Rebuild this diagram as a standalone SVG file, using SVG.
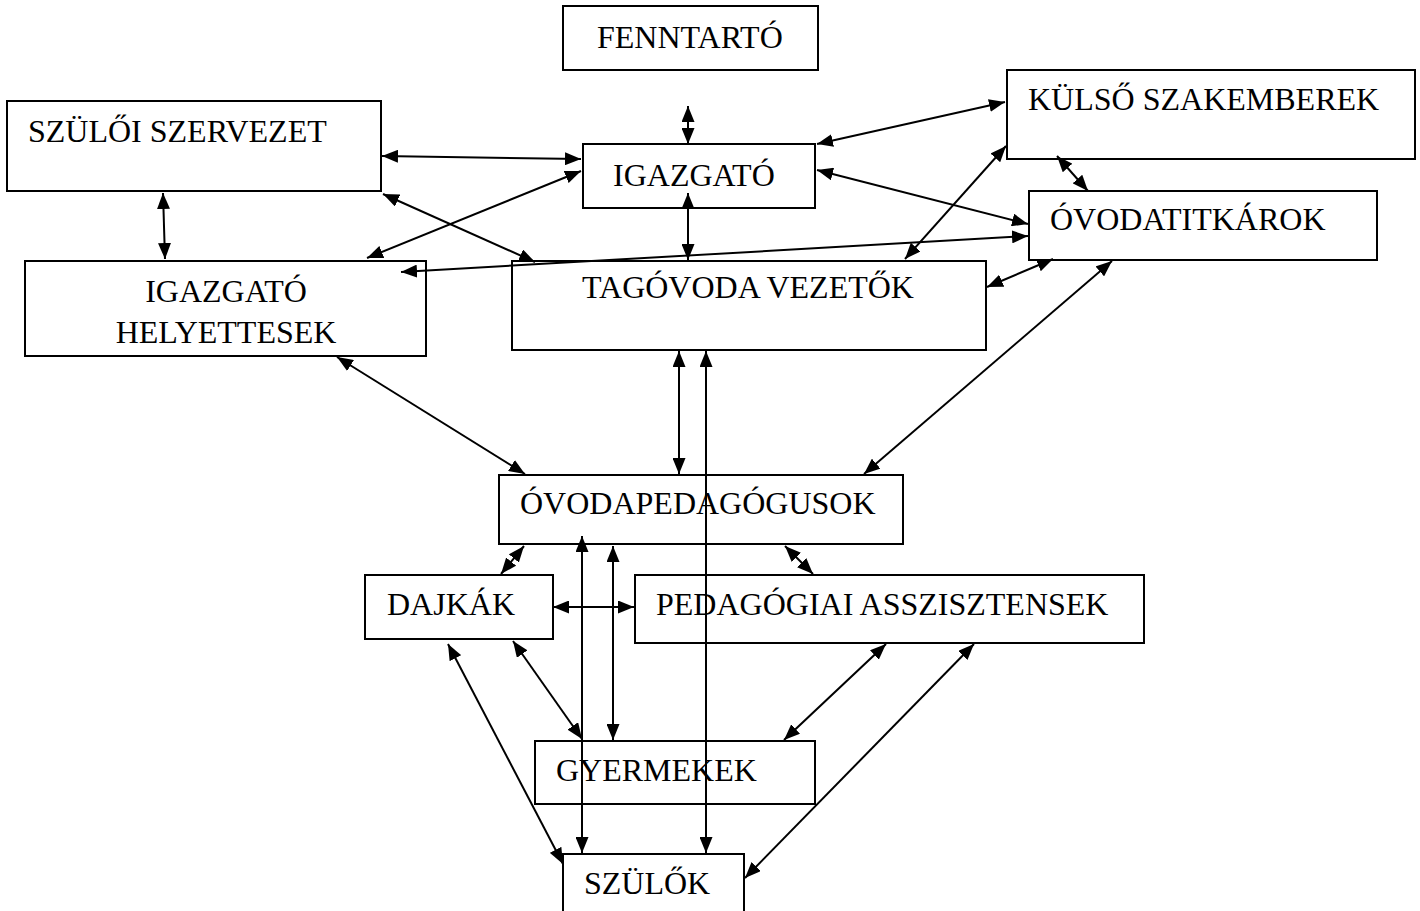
<svg xmlns="http://www.w3.org/2000/svg" width="1420" height="911" viewBox="0 0 1420 911">
<style>
.box{fill:none;stroke:#000;stroke-width:2}
.lbl{font-family:"Liberation Serif","Times New Roman",serif;font-size:32px;fill:#000}
.c{stroke:#000;stroke-width:2;fill:none;marker-start:url(#ah);marker-end:url(#ah)}
</style>
<defs>
<marker id="ah" viewBox="0 0 16 13" refX="16" refY="6.5" markerWidth="16" markerHeight="13" markerUnits="userSpaceOnUse" orient="auto-start-reverse">
<path d="M0,0 L16,6.5 L0,13 z" fill="#000"/>
</marker>
</defs>
<rect width="1420" height="911" fill="#fff"/>
<g id="fenntarto"><rect class="box" x="563" y="6" width="255" height="64"/><text class="lbl" x="597" y="48">FENNTARTÓ</text></g>
<g id="szuloi-szervezet"><rect class="box" x="7" y="101" width="374" height="90"/><text class="lbl" x="28" y="142">SZÜLŐI SZERVEZET</text></g>
<g id="igazgato"><rect class="box" x="583" y="144" width="232" height="64"/><text class="lbl" x="613" y="186">IGAZGATÓ</text></g>
<g id="kulso"><rect class="box" x="1007" y="70" width="408" height="89"/><text class="lbl" x="1028" y="110">KÜLSŐ SZAKEMBEREK</text></g>
<g id="titkarok"><rect class="box" x="1029" y="191" width="348" height="69"/><text class="lbl" x="1050" y="230">ÓVODATITKÁROK</text></g>
<g id="helyettesek"><rect class="box" x="25" y="261" width="401" height="95"/><text class="lbl" x="226" y="302" text-anchor="middle">IGAZGATÓ</text><text class="lbl" x="226" y="343" text-anchor="middle">HELYETTESEK</text></g>
<g id="tagovoda"><rect class="box" x="512" y="261" width="474" height="89"/><text class="lbl" x="748" y="298" text-anchor="middle">TAGÓVODA VEZETŐK</text></g>
<g id="ovodapedagogusok"><rect class="box" x="499" y="475" width="404" height="69"/><text class="lbl" x="520" y="514">ÓVODAPEDAGÓGUSOK</text></g>
<g id="dajkak"><rect class="box" x="365" y="575" width="188" height="64"/><text class="lbl" x="387" y="615">DAJKÁK</text></g>
<g id="asszisztensek"><rect class="box" x="635" y="575" width="509" height="68"/><text class="lbl" x="656" y="615">PEDAGÓGIAI ASSZISZTENSEK</text></g>
<g id="gyermekek"><rect class="box" x="535" y="741" width="280" height="63"/><text class="lbl" x="556" y="781">GYERMEKEK</text></g>
<g id="szulok"><rect class="box" x="563" y="854" width="181" height="80"/><text class="lbl" x="584" y="894">SZÜLŐK</text></g>
<g id="connectors">
<line class="c" x1="688" y1="106" x2="688" y2="144"/>
<line class="c" x1="382" y1="156" x2="581" y2="159"/>
<line class="c" x1="383" y1="194" x2="535" y2="262"/>
<line class="c" x1="581" y1="171" x2="367" y2="258"/>
<line class="c" x1="163" y1="193" x2="165" y2="259"/>
<line class="c" x1="688" y1="193" x2="688" y2="260"/>
<line class="c" x1="817" y1="144" x2="1005" y2="102"/>
<line class="c" x1="817" y1="170" x2="1028" y2="224"/>
<line class="c" x1="401" y1="272" x2="1028" y2="236"/>
<line class="c" x1="905" y1="259" x2="1006" y2="146"/>
<line class="c" x1="1057" y1="156" x2="1088" y2="191"/>
<line class="c" x1="987" y1="287" x2="1053" y2="259"/>
<line class="c" x1="864" y1="474" x2="1112" y2="261"/>
<line class="c" x1="337" y1="357" x2="525" y2="474"/>
<line class="c" x1="679" y1="351" x2="679" y2="474"/>
<line class="c" x1="706" y1="351" x2="706" y2="853"/>
<line class="c" x1="524" y1="546" x2="501" y2="574"/>
<line class="c" x1="785" y1="546" x2="813" y2="574"/>
<line class="c" x1="553" y1="607" x2="634" y2="607"/>
<line class="c" x1="582" y1="536" x2="582" y2="853"/>
<line class="c" x1="613" y1="546" x2="613" y2="740"/>
<line class="c" x1="513" y1="641" x2="582" y2="739"/>
<line class="c" x1="448" y1="644" x2="563" y2="864"/>
<line class="c" x1="886" y1="644" x2="784" y2="740"/>
<line class="c" x1="974" y1="644" x2="745" y2="878"/>
</g>
</svg>
